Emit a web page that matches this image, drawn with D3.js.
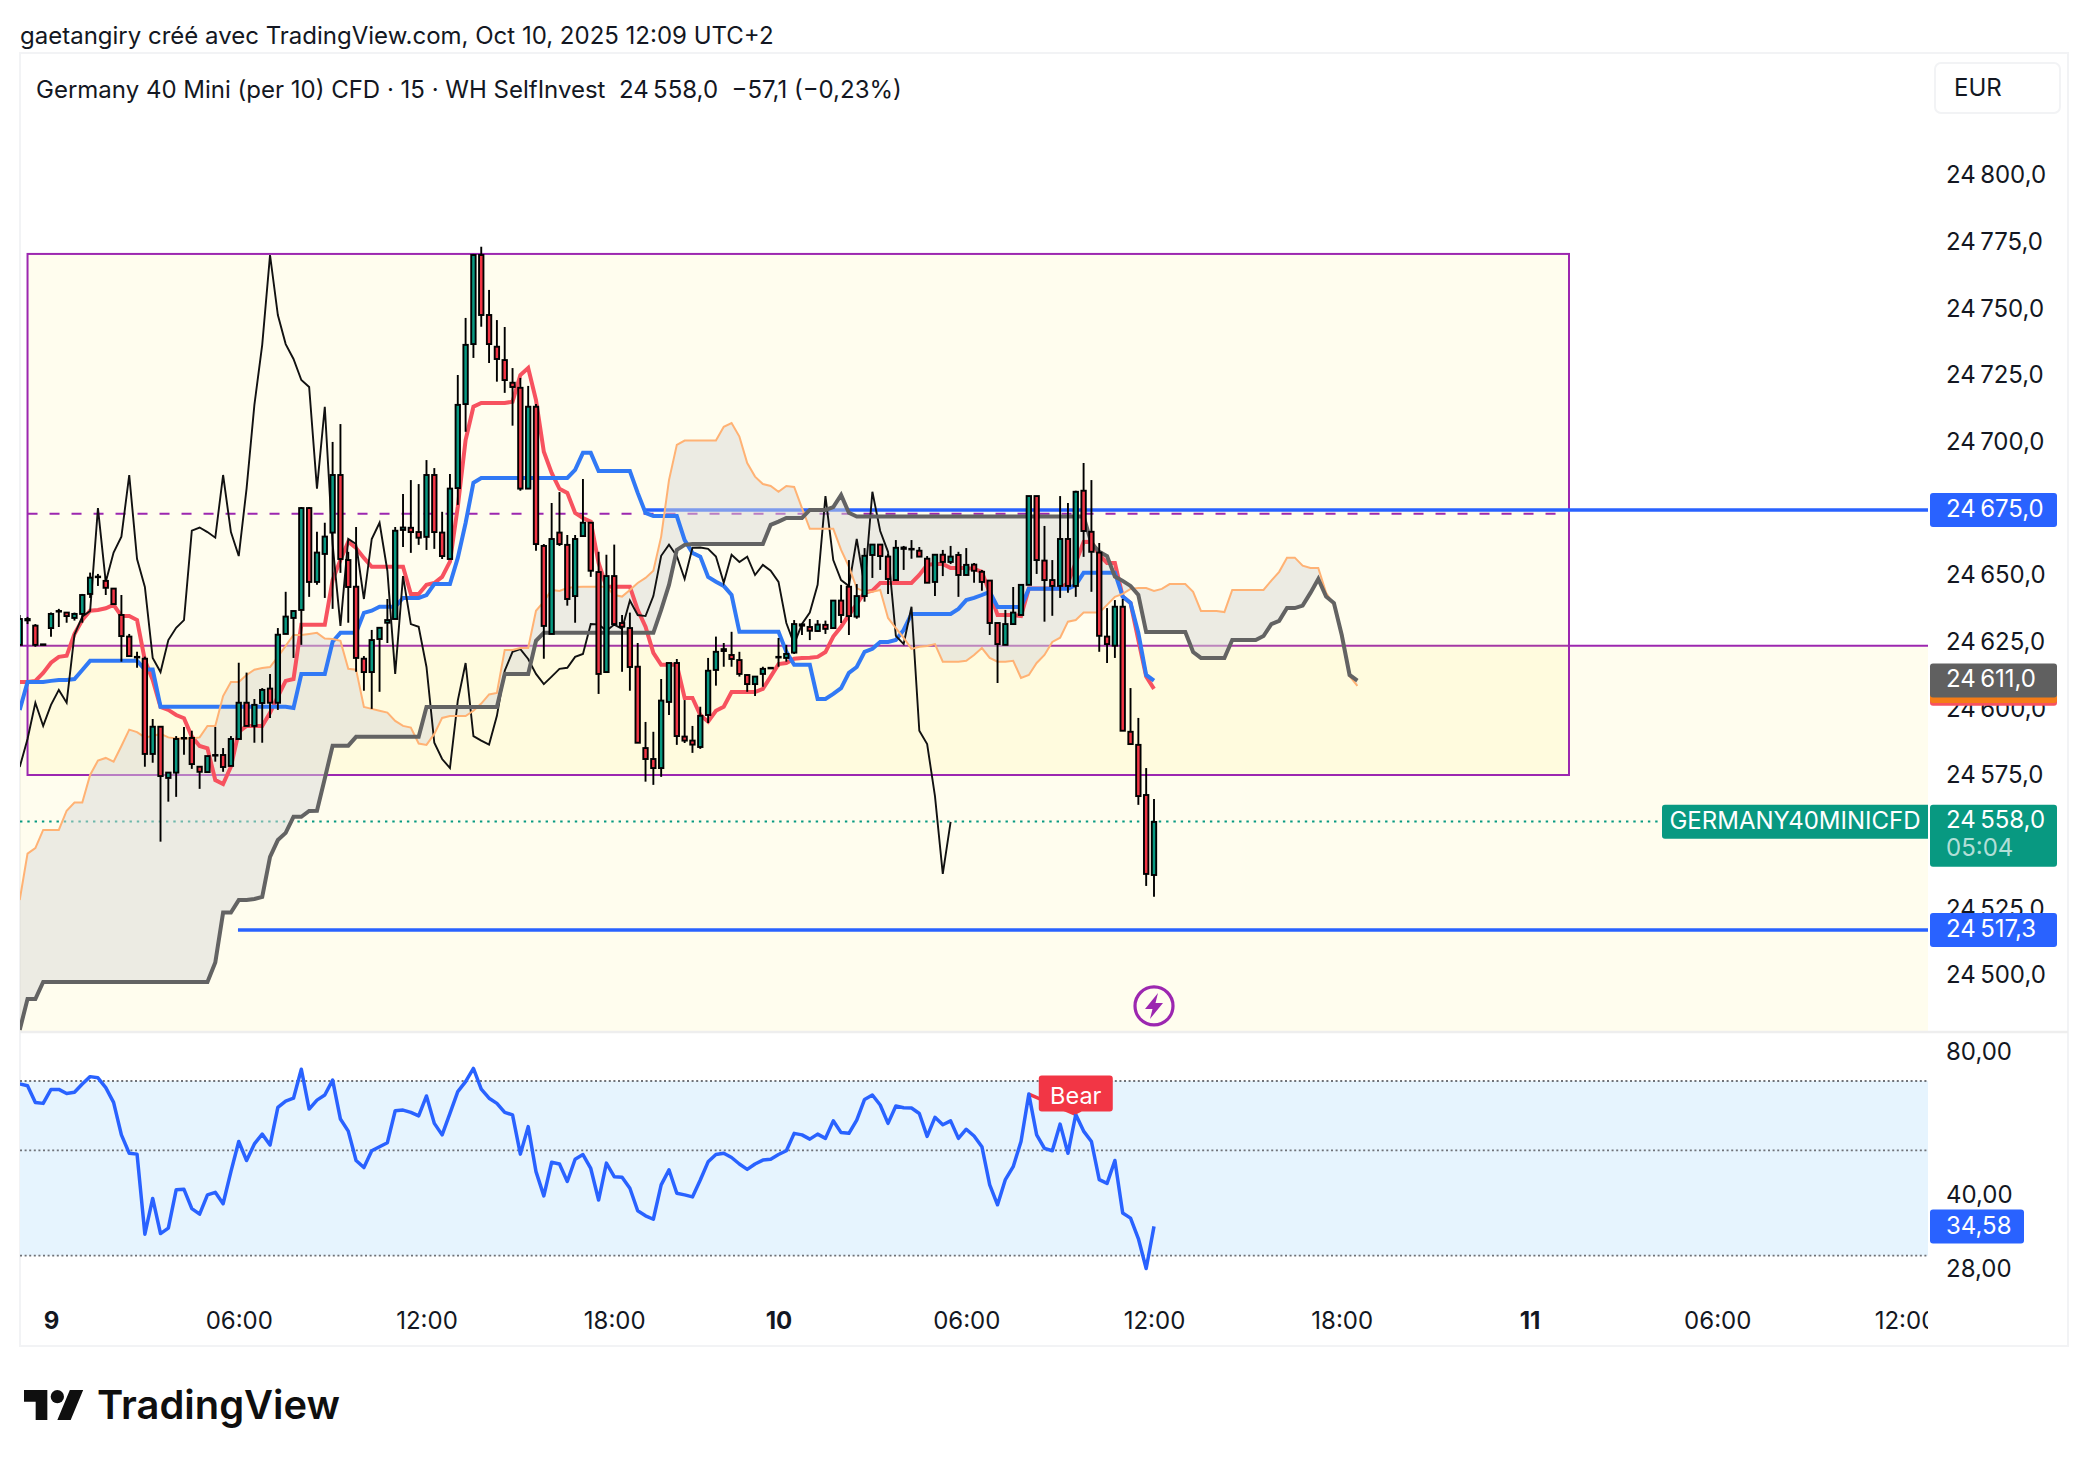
<!DOCTYPE html>
<html><head><meta charset="utf-8">
<script src="https://cdn.jsdelivr.net/npm/d3@7/dist/d3.min.js"></script>
<style>
html,body{margin:0;padding:0;background:#fff;overflow:hidden}
svg{display:block}
text{font-family:Inter,"Noto Sans",sans-serif;fill:#131722}
</style></head><body><div id="chart"></div>
<script>
// All series begin at bar index firstBar (15-minute bars, 0 = Oct 9 00:00)
const firstBar = -4;
const opens = [
24623.8,24633,24631,24624,24630.1,24636.5,24635.9,24633.9,24635.4,24642.9,
24649.4,24647.8,24644.9,24635,24626.9,24619.3,24618.6,24582.9,24593.1,24573.9,
24575.9,24588.9,24588.9,24578.1,24576.1,24582.5,24582.5,24578.4,24588.5,24602.1,
24593.4,24602,24607.4,24602.1,24627.9,24633.9,24636.9,24675.1,24647.4,24657.9,
24665.9,24687.5,24655.6,24645.6,24618.6,24613.6,24626,24632.1,24633.5,24666.9,
24667.7,24666.1,24664.3,24687.5,24665.9,24656,24682.6,24714.1,24736.6,24770,
24747.5,24735.6,24730.6,24722.1,24720.2,24682.4,24713.1,24660.9,24627.9,24665.9,
24661.3,24642.1,24664.6,24669.6,24651.1,24613.6,24649.6,24632,24630.1,24615.6,
24585.1,24581,24577.6,24602.4,24617,24589.4,24587.9,24585.5,24597.5,24614.4,
24621.5,24620,24618.1,24612.5,24609.1,24612.9,24615.2,24619.3,24618.9,24620.9,
24631,24630.5,24629,24631.3,24630.1,24640.4,24645.6,24634.4,24642.1,24657.5,
24661.4,24656.9,24648.1,24659.8,24659.8,24659.1,24656.1,24647.4,24657.6,24654.9,
24657.5,24650,24653.9,24651.2,24647.9,24632,24623.8,24631.6,24635,24646.3,
24679.6,24655.4,24648.1,24645.9,24663.5,24645.9,24681.6,24666.2,24658.4,24626.9,
24623.5,24638.1,24591.2,24586.3,24567.5,24537.5];
const highs = [
24635,24634.3,24631.6,24624,24635.9,24637.3,24635.9,24635.9,24642.9,24650.9,
24650.4,24649.4,24644.9,24642.5,24627.9,24621.2,24619.4,24596,24593.1,24575.9,
24589.6,24593,24591.6,24578.1,24582.1,24593,24585.1,24589.6,24617.1,24613.4,
24603.5,24607.6,24612.9,24630.1,24643.7,24636.5,24675.5,24675.5,24666.2,24669.6,
24699.9,24706.6,24658.7,24668,24619.6,24629.4,24630.2,24641,24668,24680.4,
24685.6,24684.1,24693.1,24690.1,24673.7,24687.9,24725,24746.4,24770.4,24773.1,
24756.9,24745.6,24743,24727.6,24723.9,24720.9,24714.1,24661.6,24677,24681.1,
24665,24665,24686,24669.6,24658.7,24657.6,24661.4,24635,24635.9,24624.5,
24594.9,24591.2,24611,24617,24618.5,24603.1,24593.4,24600.6,24618.9,24626.9,
24624.5,24628.7,24621.2,24612.5,24611.9,24615.6,24615.2,24626.4,24623.8,24633.1,
24631.6,24633.5,24633.1,24632.9,24640.4,24646.3,24655.6,24646.6,24660.1,24661.4,
24661.4,24657.9,24663.1,24660.9,24663.1,24660.5,24657.1,24657.6,24659.4,24660.9,
24658.7,24660.1,24654.5,24651.9,24647.9,24632,24636.9,24645.5,24646.3,24679.6,
24679.6,24668.4,24655.6,24679.6,24677,24681.6,24692,24685.6,24662,24637.6,
24640.6,24641,24607.6,24596.4,24577.6,24566];
const lows = [
24623.8,24631.6,24623.1,24624,24626.8,24630.5,24632.1,24632.9,24632.1,24641.4,
24645.9,24642.5,24638.8,24617.5,24619.6,24615.2,24578.1,24579.6,24550,24565,
24566.8,24582.6,24577.3,24569.8,24576.1,24580,24576.2,24578.4,24588.5,24593.4,
24587.1,24587.1,24596.4,24599.4,24627.9,24618.9,24623.8,24641.8,24646.3,24641.4,
24637.3,24650.8,24632.1,24613.7,24606.6,24599.8,24606.2,24624.5,24633.5,24660.5,
24658.3,24661.3,24659.4,24659.8,24656,24656,24676.3,24703.7,24731.4,24743.1,
24729.5,24722.5,24718.3,24706,24681.6,24682.3,24659.1,24618.6,24627.9,24660.9,
24638.5,24632.1,24664.3,24649.3,24605.4,24613.6,24630.9,24613.7,24606.6,24587,
24572.5,24571.3,24574.3,24597.5,24586.3,24587,24583.3,24584.8,24594.5,24608.5,
24615.6,24615.6,24611.9,24606.2,24604.6,24608.1,24615.2,24615.6,24617.5,24620.4,
24627.5,24625.6,24628.7,24627.9,24630.1,24632,24627.5,24633.6,24640,24648.9,
24651.9,24642.9,24648.1,24651.9,24656.1,24656.8,24647,24642.1,24649.6,24654.1,
24641.8,24650,24647.1,24644.1,24627.5,24609.5,24623.8,24631.6,24635,24646.3,
24650.4,24632.5,24634.7,24641.4,24643.3,24641.8,24656.8,24643.7,24621.2,24617,
24618.9,24591.6,24586.6,24563.8,24533.4,24529.3];
const closes = [
24633.5,24633.5,24623.8,24624,24635.4,24636.5,24634.6,24635.4,24642.5,24649,
24649.4,24645.2,24639.1,24627.1,24619.6,24619.3,24582.9,24593.1,24574.6,24575.9,
24588.5,24588.9,24579.1,24576.2,24582.1,24582.5,24578,24588.5,24602.1,24593.4,
24601.3,24606.9,24602.1,24627.6,24634.4,24636.5,24675.1,24647.4,24658.4,24664.4,
24687.5,24656,24645.5,24618.9,24613.6,24625.6,24630.2,24633.1,24666.6,24667.8,
24666.1,24664,24687.5,24666.1,24657.1,24682.4,24713.8,24736.3,24770,24747.5,
24736.6,24731,24723.1,24720.5,24682.4,24713.1,24661.6,24630.9,24663.5,24661.6,
24641,24663.5,24669.6,24651.6,24612.9,24649.6,24631.6,24630.6,24615.5,24587.1,
24581,24577.6,24602.9,24617,24589.6,24587.9,24586.4,24597.2,24614.1,24621.2,
24622.2,24618.5,24612.9,24609.1,24611.9,24614.8,24615.2,24619.3,24620.4,24631.6,
24631.5,24629.1,24631.4,24629.8,24640.4,24635,24634.6,24642.1,24657.2,24661.4,
24657.1,24648.5,24660.2,24660.3,24659.8,24656.9,24647.1,24657.6,24654.9,24656.9,
24650,24653.8,24651.6,24647.4,24632,24624.1,24631.6,24635.9,24646.3,24679.6,
24655.6,24648.1,24645.9,24663.5,24645.9,24681.2,24666.5,24658.7,24627.2,24624.1,
24638.1,24591.6,24586.6,24567.1,24537.9,24557.4];
const conversionLine = [
24609.9,24609.9,24610.3,24613.3,24617.1,24619.3,24619.7,24627.9,24633.1,24636.6,
24636.9,24637.5,24638.8,24634.6,24634.6,24633.1,24618.1,24610.6,24600.5,24599.4,
24597.5,24596.3,24589.4,24585.9,24585,24573.1,24571.6,24578.1,24591.2,24593.4,
24593.4,24593.4,24598.3,24604.4,24610.3,24611,24631.3,24631.3,24631.3,24631.3,
24648.1,24655.6,24662.5,24660.1,24656.4,24653.1,24653.1,24653.1,24653.1,24653.1,
24642.9,24642.9,24646.3,24647,24649.3,24655,24675.6,24700.6,24713.1,24714.5,
24714.5,24714.5,24714.5,24715,24725,24727.6,24715.6,24696.2,24688.3,24682.3,
24680.8,24673.3,24671.4,24670,24654.5,24645.6,24645.6,24645.6,24645.6,24636.9,
24630.6,24620.8,24616.3,24616.3,24616.3,24603.9,24603.9,24597.5,24595,24599.1,
24600.6,24606.1,24606.1,24606.1,24606.1,24607.3,24611.9,24616.6,24617,24618.6,
24618.9,24619,24619.3,24621.1,24626.9,24630.6,24635,24639.1,24643.4,24644.1,
24647,24647,24647,24647,24647,24650,24653.8,24654.1,24654.1,24652.6,
24652.6,24652.6,24652.3,24651.2,24643.3,24635,24635,24635,24634.6,24644.9,
24644.9,24644.9,24644.9,24644.9,24647,24654.7,24662.4,24662.5,24657.5,24654.5,
24654.5,24641.9,24639.5,24625.6,24611.9,24607.3];
const baseLine = [
24599.4,24609.9,24609.9,24609.9,24610.3,24610.6,24610.6,24611,24614.4,24617.8,
24617.8,24617.8,24617.8,24617.8,24617.8,24617.8,24614.6,24614.6,24600.6,24600.6,
24600.6,24600.6,24600.6,24600.6,24600.6,24600.6,24600.6,24600.6,24600.6,24600.6,
24600.6,24600.6,24600.6,24600.6,24600.6,24600.1,24612.9,24612.9,24612.9,24612.9,
24625,24628.3,24628.3,24628.3,24635.8,24636.6,24638.1,24638.1,24638.1,24641.4,
24641.4,24641.4,24642.5,24646.6,24646.6,24646.6,24656.4,24669.5,24684.6,24686.4,
24686.4,24686.4,24686.4,24686.4,24686.4,24686.4,24686.4,24686.4,24686.4,24686.4,
24686.4,24689.4,24695.8,24695.8,24689,24689,24689,24689,24689,24680.8,
24673.3,24672.1,24672.1,24672.1,24672.1,24663.1,24658.3,24656.9,24649.3,24647.5,
24645.9,24642.5,24628.7,24628.7,24628.7,24628.7,24628.7,24628.7,24621.2,24616.3,
24616.3,24616.3,24603.5,24603.5,24605.4,24607.6,24613.3,24615.5,24621.2,24622.3,
24624.9,24624.9,24625.6,24629.4,24635.4,24635.4,24635.4,24635.4,24635.4,24635.4,
24637.3,24640.6,24641.4,24642.5,24643.7,24638,24638,24638,24638,24644.8,
24644.8,24644.8,24644.8,24644.8,24644.8,24646.3,24650.8,24650.8,24650.8,24650.8,
24650.8,24641.9,24639.5,24628.3,24612.5,24610.4];
const leadingSpanA = [
24528.1,24545.5,24547.6,24554.4,24554.4,24554.4,24561.6,24564.7,24564.7,24575,
24580.4,24581.4,24580,24585.9,24592,24591.1,24589.1,24589.6,24590.4,24589.1,
24588.7,24588.7,24588.7,24589.1,24593.4,24593.4,24604.6,24609.9,24609.9,24612.5,
24614.5,24615.1,24615.5,24619.3,24623.4,24627.5,24627.5,24627.9,24628.3,24626.2,
24626,24625.3,24614.8,24614.5,24600.5,24599.8,24599.1,24598.4,24595.3,24593.4,
24592.8,24586.8,24586.3,24590.4,24596.4,24597.1,24597.1,24597.1,24599.1,24601.8,
24605.2,24605.8,24621.9,24621.9,24622.6,24622.6,24636.6,24640,24644.4,24644,
24645.1,24645.5,24645.6,24645.6,24645.6,24645.6,24642.5,24641.9,24644.4,24647,
24648.9,24651.6,24664.4,24685.6,24698.8,24700.4,24700.4,24700.4,24700.4,24700.4,
24705.6,24707,24701.9,24692,24686.9,24684.1,24683.4,24681.2,24683.4,24683,
24675.1,24667.3,24667.3,24667.3,24667.3,24659.4,24653.1,24645.1,24643.7,24643.7,
24644.4,24633.9,24630.1,24626.4,24622.3,24623.1,24623.4,24624.1,24617.5,24617.5,
24617.5,24617.8,24620,24622.6,24618.9,24617.5,24617.5,24617.8,24611.4,24612.5,
24617,24620,24624.9,24626.5,24632.5,24633.1,24635.9,24635.9,24635.9,24638.8,
24641.8,24642.9,24644.8,24645.1,24645.1,24644,24644.8,24646.6,24646.6,24646.6,
24643.7,24636.5,24636.5,24636.5,24636.1,24644.4,24644.4,24644.4,24644.4,24644.4,
24647.9,24651.2,24656.5,24656.5,24653.5,24652.6,24652.6,24643.3,24638.8,24628.3,
24612.1,24608.4];
const leadingSpanB = [
24479.4,24491,24491,24497.4,24497.4,24497.4,24497.4,24497.4,24497.4,24497.4,
24497.4,24497.4,24497.4,24497.4,24497.4,24497.4,24497.4,24497.4,24497.4,24497.4,
24497.4,24497.4,24497.4,24497.4,24497.4,24504.7,24523.4,24523.4,24528.1,24528.1,
24528.5,24529.3,24544.3,24550.6,24553.3,24559.3,24559.3,24561.5,24561.6,24573.7,
24586,24586,24586,24589.3,24589.3,24589.3,24589.3,24589.3,24589.3,24589.3,
24589.3,24589.3,24600.5,24600.5,24600.5,24600.5,24600.5,24600.5,24600.5,24600.5,
24600.5,24600.5,24612.9,24612.9,24612.9,24612.9,24625.3,24628.3,24628.3,24628.3,
24628.3,24628.3,24628.3,24628.3,24628.3,24628.3,24628.3,24628.3,24628.3,24628.3,
24628.3,24628.3,24636.9,24646.3,24659.4,24661.3,24661.6,24661.6,24661.6,24661.6,
24661.6,24661.6,24661.6,24661.6,24661.6,24661.6,24668.8,24670,24671.4,24671.4,
24671.4,24674.4,24674.4,24674.4,24675.5,24680,24673.3,24671.9,24671.9,24671.9,
24671.9,24671.9,24671.9,24671.9,24671.9,24671.9,24671.9,24671.9,24671.9,24671.9,
24671.9,24671.9,24671.9,24671.9,24671.9,24671.9,24671.9,24671.9,24671.9,24671.9,
24671.9,24671.9,24671.9,24671.9,24671.9,24671.9,24671.9,24662,24658.7,24657.1,
24649.4,24647.8,24645.9,24642.5,24628.6,24628.6,24628.6,24628.6,24628.6,24628.6,
24621.1,24618.9,24618.9,24618.9,24618.9,24625.6,24625.6,24625.6,24625.6,24627.1,
24631.6,24632.8,24637.6,24637.6,24638.5,24643.3,24648.5,24641.9,24639.5,24627.5,
24612.5,24610.4];
const laggingSpan = [
24578,24588.5,24602.1,24593.4,24601.3,24606.9,24602.1,24627.6,24634.4,24636.5,
24675.1,24647.4,24658.4,24664.4,24687.5,24656,24645.5,24618.9,24613.6,24625.6,
24630.2,24633.1,24666.6,24667.8,24666.1,24664,24687.5,24666.1,24657.1,24682.4,
24713.8,24736.3,24770,24747.5,24736.6,24731,24723.1,24720.5,24682.4,24713.1,
24661.6,24630.9,24663.5,24661.6,24641,24663.5,24669.6,24651.6,24612.9,24649.6,
24631.6,24630.6,24615.5,24587.1,24581,24577.6,24602.9,24617,24589.6,24587.9,
24586.4,24597.2,24614.1,24621.2,24622.2,24618.5,24612.9,24609.1,24611.9,24614.8,
24615.2,24619.3,24620.4,24631.6,24631.5,24629.1,24631.4,24629.8,24640.4,24635,
24634.6,24642.1,24657.2,24661.4,24657.1,24648.5,24660.2,24660.3,24659.8,24656.9,
24647.1,24657.6,24654.9,24656.9,24650,24653.8,24651.6,24647.4,24632,24624.1,
24631.6,24635.9,24646.3,24679.6,24655.6,24648.1,24645.9,24663.5,24645.9,24681.2,
24666.5,24658.7,24627.2,24624.1,24638.1,24591.6,24586.6,24567.1,24537.9,24557.4];
const rsiValues = [
69,68.4,63.1,62.8,67.2,67.2,65.9,66.3,69,71.5,
71.1,67.8,63.1,53.9,49.3,49.1,33.3,39.6,33.4,34.3,
41.3,41.4,37.7,36.7,40.3,40.8,38.6,45.1,52.2,47.6,
51.6,54.1,51.3,61.6,63.5,64.4,74.1,61.1,63.8,65.4,
70.3,58.2,54.9,47.6,46,49.9,50.9,51.9,60.6,60.8,
60.1,59.1,65.1,57,53.9,59.8,66.5,69.8,74.4,67.3,
64.4,62.8,60.1,59.4,49.1,56.1,45.1,40.1,47.2,46.8,
43,47.9,49,45.8,39.3,47,44,43.9,41.6,37.3,
36.4,35.8,42.3,45.5,40.6,40.3,39.9,43.3,47.3,49,
49.3,48.3,46.8,45.6,46.8,47.7,47.9,49,49.9,54.3,
53.9,52.8,54.1,53,57.7,54.5,54.3,57.9,64,65.4,
62.3,57,62,61.5,61.4,59.8,53.5,58.7,56.6,57.7,
53,55.4,53.6,50.9,42.3,38.4,43.4,46.2,52.2,65.7,
53.9,50.5,49.9,56.8,49.3,59.5,54.9,52.2,43.4,42.6,
47.6,36.9,36,32.6,28.2,34.58];

const priceTicks = [24500,24525,24575,24600,24625,24650,24700,24725,24750,24775,24800];
const rsiTicks = [80,40,28];
const rsiBands = [70,50,30];
const timeTickBars = [0,24,48,72,93,117,141,165,189,213,237];
const timeTickLabels = ["9","06:00","12:00","18:00","10","06:00","12:00","18:00","11","06:00","12:00"];
const boldTimeLabels = ["9","10","11"];
const boxZone = {x0:-3,x1:194.05,top:24770.4,bottom:24575};
const supplyZoneTop = 24623.5;
const dashedLevel = {price:24673,x0:-3,x1:192.4};
const levelLines = [{price:24674.4,from:76},{price:24516.9,from:23.9}];
const lastPrice = 24558;
const bearDivergenceBars = [125,131];
const bearDivergenceRsi = [65.7,59.5];
const signalBar = 141;
const signalPrice = 24488.4;

const W=2088,H=1466, paneL=20, paneR=1928, paneT=53, paneB=1031;
const x = d3.scaleLinear().domain([0,141]).range([51,1154]);
const y = d3.scaleLinear().domain([24650,24500]).range([575,975]);
const yRsi = d3.scaleLog().domain([70,30]).range([1081,1255.7]);
const fmt = v=>{const s=v.toFixed(1).replace(".",",");return s.slice(0,2)+"\u2009"+s.slice(2)};
const barOf = k=>k+firstBar;

const svg=d3.select("#chart").append("svg").attr("width",W).attr("height",H).attr("viewBox",`0 0 ${W} ${H}`);
const defs=svg.append("defs");
defs.append("clipPath").attr("id","main").append("rect").attr("x",paneL).attr("y",paneT).attr("width",paneR-paneL).attr("height",paneB-paneT);
defs.append("clipPath").attr("id","lower").append("rect").attr("x",paneL).attr("y",paneB).attr("width",paneR-paneL).attr("height",H-paneB);

// frame
svg.append("rect").attr("x",20).attr("y",53).attr("width",2048).attr("height",1293).attr("fill","#fff").attr("stroke","#f2f3f5").attr("stroke-width",2);

const main=svg.append("g").attr("clip-path","url(#main)");
const purple="#9C27B0", zoneFill="rgba(255,235,59,0.087)";
// zones
main.append("rect").attr("x",paneL).attr("width",paneR-paneL).attr("y",y(supplyZoneTop)).attr("height",paneB-y(supplyZoneTop)).attr("fill",zoneFill);
main.append("line").attr("x1",paneL).attr("x2",paneR).attr("y1",y(supplyZoneTop)).attr("y2",y(supplyZoneTop)).attr("stroke",purple).attr("stroke-width",2);
main.append("rect").attr("x",x(boxZone.x0)).attr("width",x(boxZone.x1)-x(boxZone.x0)).attr("y",y(boxZone.top)).attr("height",y(boxZone.bottom)-y(boxZone.top)).attr("fill",zoneFill).attr("stroke",purple).attr("stroke-width",2);
main.append("line").attr("x1",x(dashedLevel.x0)).attr("x2",x(dashedLevel.x1)).attr("y1",y(dashedLevel.price)).attr("y2",y(dashedLevel.price)).attr("stroke",purple).attr("stroke-width",2).attr("stroke-dasharray","10 12");
// horizontal levels
main.selectAll(".lvl").data(levelLines).join("line").attr("x1",d=>x(d.from)).attr("x2",paneR).attr("y1",d=>y(d.price)).attr("y2",d=>y(d.price)).attr("stroke","#2962FF").attr("stroke-width",3.6);
main.append("line").attr("x1",paneL).attr("x2",1662).attr("y1",y(24557.6)).attr("y2",y(24557.6)).attr("stroke","#089981").attr("stroke-width",2).attr("stroke-dasharray","2.4 4.9");

// cloud
const cloud=leadingSpanA.map((a,k)=>({bar:barOf(k),a,b:leadingSpanB[k]}));
main.append("path").datum(cloud).attr("fill","rgba(215,215,215,0.485)").attr("d",d3.area().x(d=>x(d.bar)).y0(d=>y(d.a)).y1(d=>y(d.b)));
const ln=d3.line().x((d,k)=>x(barOf(k))).y(d=>y(d));
main.append("path").datum(conversionLine).attr("fill","none").attr("stroke","#F7525F").attr("stroke-width",4).attr("d",ln);
main.append("path").datum(baseLine).attr("fill","none").attr("stroke","#3179F5").attr("stroke-width",4).attr("d",ln);
main.append("path").datum(laggingSpan).attr("fill","none").attr("stroke","#111").attr("stroke-width",1.9).attr("d",ln);
main.append("path").datum(leadingSpanA).attr("fill","none").attr("stroke","#FFB274").attr("stroke-width",2).attr("d",ln);
main.append("path").datum(leadingSpanB).attr("fill","none").attr("stroke","#636363").attr("stroke-width",4).attr("d",ln);

// candles
const candles=closes.map((c,k)=>({bar:barOf(k),o:opens[k],h:highs[k],l:lows[k],c}));
const cg=main.append("g").selectAll("g").data(candles).join("g");
cg.append("line").attr("x1",d=>x(d.bar)).attr("x2",d=>x(d.bar)).attr("y1",d=>y(d.h)).attr("y2",d=>y(d.l)).attr("stroke","#000").attr("stroke-width",1.9);
cg.append("rect").attr("x",d=>x(d.bar)-2.2).attr("width",4.4)
  .attr("y",d=>y(Math.max(d.o,d.c))).attr("height",d=>Math.max(0.6,Math.abs(y(d.o)-y(d.c))))
  .attr("fill",d=>d.c>=d.o?"#089981":"#F23645").attr("stroke","#000").attr("stroke-width",1.9);

// signal icon
const sig=main.append("g").attr("transform",`translate(${x(signalBar)},${y(signalPrice)})`);
sig.append("circle").attr("r",19).attr("fill","none").attr("stroke",purple).attr("stroke-width",3.2);
sig.append("path").attr("d","M4,-13 L-9,3 L-1.5,3 L-4,13 L9,-3 L1.5,-3 Z").attr("fill",purple);

// RSI pane
const lower=svg.append("g").attr("clip-path","url(#lower)");
lower.append("rect").attr("x",paneL).attr("width",paneR-paneL).attr("y",yRsi(70)).attr("height",yRsi(30)-yRsi(70)).attr("fill","#E6F4FE");
lower.selectAll(".band").data(rsiBands).join("line").attr("x1",paneL).attr("x2",paneR).attr("y1",d=>yRsi(d)).attr("y2",d=>yRsi(d)).attr("stroke","#6f7278").attr("stroke-width",1.8).attr("stroke-dasharray","2 2.6");
lower.append("path").datum(bearDivergenceBars.map((b,k)=>[b,bearDivergenceRsi[k]])).attr("fill","none").attr("stroke","#F23645").attr("stroke-width",3.4).attr("d",d3.line().x(d=>x(d[0])).y(d=>yRsi(d[1])));
lower.append("path").datum(rsiValues).attr("fill","none").attr("stroke","#2962FF").attr("stroke-width",3.5).attr("stroke-linejoin","round").attr("d",d3.line().x((d,k)=>x(barOf(k))).y(d=>yRsi(d)));

// Bear label
const bx=x(bearDivergenceBars[1]), by=yRsi(bearDivergenceRsi[1]);
const bear=lower.append("g").attr("transform",`translate(${bx},${by})`);
bear.append("path").attr("d","M-34,-39 h68 a3,3 0 0 1 3,3 v30 a3,3 0 0 1 -3,3 h-28 l-6,3 l-6,-3 h-28 a3,3 0 0 1 -3,-3 v-30 a3,3 0 0 1 3,-3 z").attr("fill","#F23645");
bear.append("text").attr("text-anchor","middle").attr("y",-11).attr("font-size",23.5).style("fill","#fff").text("Bear");

// axes
const fs=24;
const yAxis=svg.append("g").attr("transform","translate(1946,0)").call(d3.axisRight(y).tickValues(priceTicks).tickSize(0).tickPadding(0).tickFormat(fmt));
const rAxis=svg.append("g").attr("transform","translate(1946,0)").call(d3.axisRight(yRsi).tickValues(rsiTicks).tickSize(0).tickPadding(0).tickFormat(d=>d.toFixed(2).replace(".",",")));
const tAxis=svg.append("g").attr("clip-path","url(#lower)");
const tG=tAxis.append("g").attr("transform","translate(0,1311.5)").call(d3.axisBottom(x).tickValues(timeTickBars).tickSize(0).tickPadding(0).tickFormat((d,k)=>timeTickLabels[k]));
[yAxis,rAxis,tG].forEach(g=>{g.select(".domain").remove();g.selectAll("line").remove();g.attr("font-family",null).attr("font-size",null);g.selectAll("text").attr("font-size",fs).style("fill","#131722").style("font-family","Inter");});
tG.selectAll("text").attr("font-weight",function(){return boldTimeLabels.includes(d3.select(this).text())?700:400});
yAxis.selectAll("text").attr("dy","0.32em");
rAxis.selectAll("text").attr("dy","0.27em");

// price labels
function priceLabel(cy,h,fill,txt,w){
  const g=svg.append("g");
  g.append("rect").attr("x",1930).attr("y",cy-h/2).attr("width",w||127).attr("height",h).attr("rx",3).attr("fill",fill);
  if(txt) g.append("text").attr("x",1946).attr("y",cy+6.8).attr("font-size",fs).style("fill","#fff").text(txt);
}
priceLabel(y(24674.4),34,"#2962FF",fmt(24675));
priceLabel(y(conversionLine[conversionLine.length-1]),34,"#F7525F");
priceLabel(y(leadingSpanA[leadingSpanA.length-1]),34,"#F57C17");
priceLabel(y(leadingSpanB[leadingSpanB.length-1]),34,"#606060",fmt(24611));
priceLabel(y(24516.9),34,"#2962FF",fmt(24517.3));
// last price
const cy0=y(lastPrice);
svg.append("rect").attr("x",1930).attr("y",cy0-15.5).attr("width",127).attr("height",62).attr("rx",3).attr("fill","#089981");
svg.append("text").attr("x",1946).attr("y",cy0+8).attr("font-size",fs).style("fill","#fff").text(fmt(lastPrice));
svg.append("text").attr("x",1946).attr("y",cy0+36).attr("font-size",fs).style("fill","rgba(255,255,255,.7)").text("05:04");
svg.append("path").attr("d",`M1928,${cy0-15.5} h-263 a3,3 0 0 0 -3,3 v28 a3,3 0 0 0 3,3 h263 z`).attr("fill","#089981");
svg.append("text").attr("x",1795).attr("y",cy0+9).attr("text-anchor","middle").attr("font-size",24).style("fill","#fff").text("GERMANY40MINICFD");
// RSI label
svg.append("rect").attr("x",1930).attr("y",yRsi(34.58)-17).attr("width",94).attr("height",34).attr("rx",3).attr("fill","#2962FF");
svg.append("text").attr("x",1946).attr("y",yRsi(34.58)+8).attr("font-size",fs).style("fill","#fff").text("34,58");

// pane divider
svg.append("line").attr("x1",20).attr("x2",2068).attr("y1",1032).attr("y2",1032).attr("stroke","#eeeeee").attr("stroke-width",2.4);

// headers
svg.append("text").attr("x",20).attr("y",43.5).attr("font-size",24).text("gaetangiry créé avec TradingView.com, Oct 10, 2025 12:09 UTC+2");
svg.append("text").attr("x",36).attr("y",97.5).attr("font-size",24).attr("xml:space","preserve").text("Germany 40 Mini (per 10) CFD · 15 · WH SelfInvest  24\u2009558,0  −57,1 (−0,23%)");
svg.append("rect").attr("x",1935).attr("y",63).attr("width",125).attr("height",50).attr("rx",6).attr("fill","#fff").attr("stroke","#f2f3f5").attr("stroke-width",2);
svg.append("text").attr("x",1954).attr("y",96).attr("font-size",24).text("EUR");

// logo
const logo=svg.append("g").attr("transform","translate(24,1383.3) scale(1.667)").attr("fill","#0f0f0f");
logo.append("path").attr("d","M14 22H7V11H0V4h14v18zM28 22h-8l7.5-18h8L28 22z");
logo.append("circle").attr("cx",20).attr("cy",8).attr("r",4);
svg.append("text").attr("x",97).attr("y",1419).attr("font-size",40).attr("font-weight",600).style("fill","#0f0f0f").attr("textLength",243).attr("lengthAdjust","spacingAndGlyphs").text("TradingView");
</script></body></html>
